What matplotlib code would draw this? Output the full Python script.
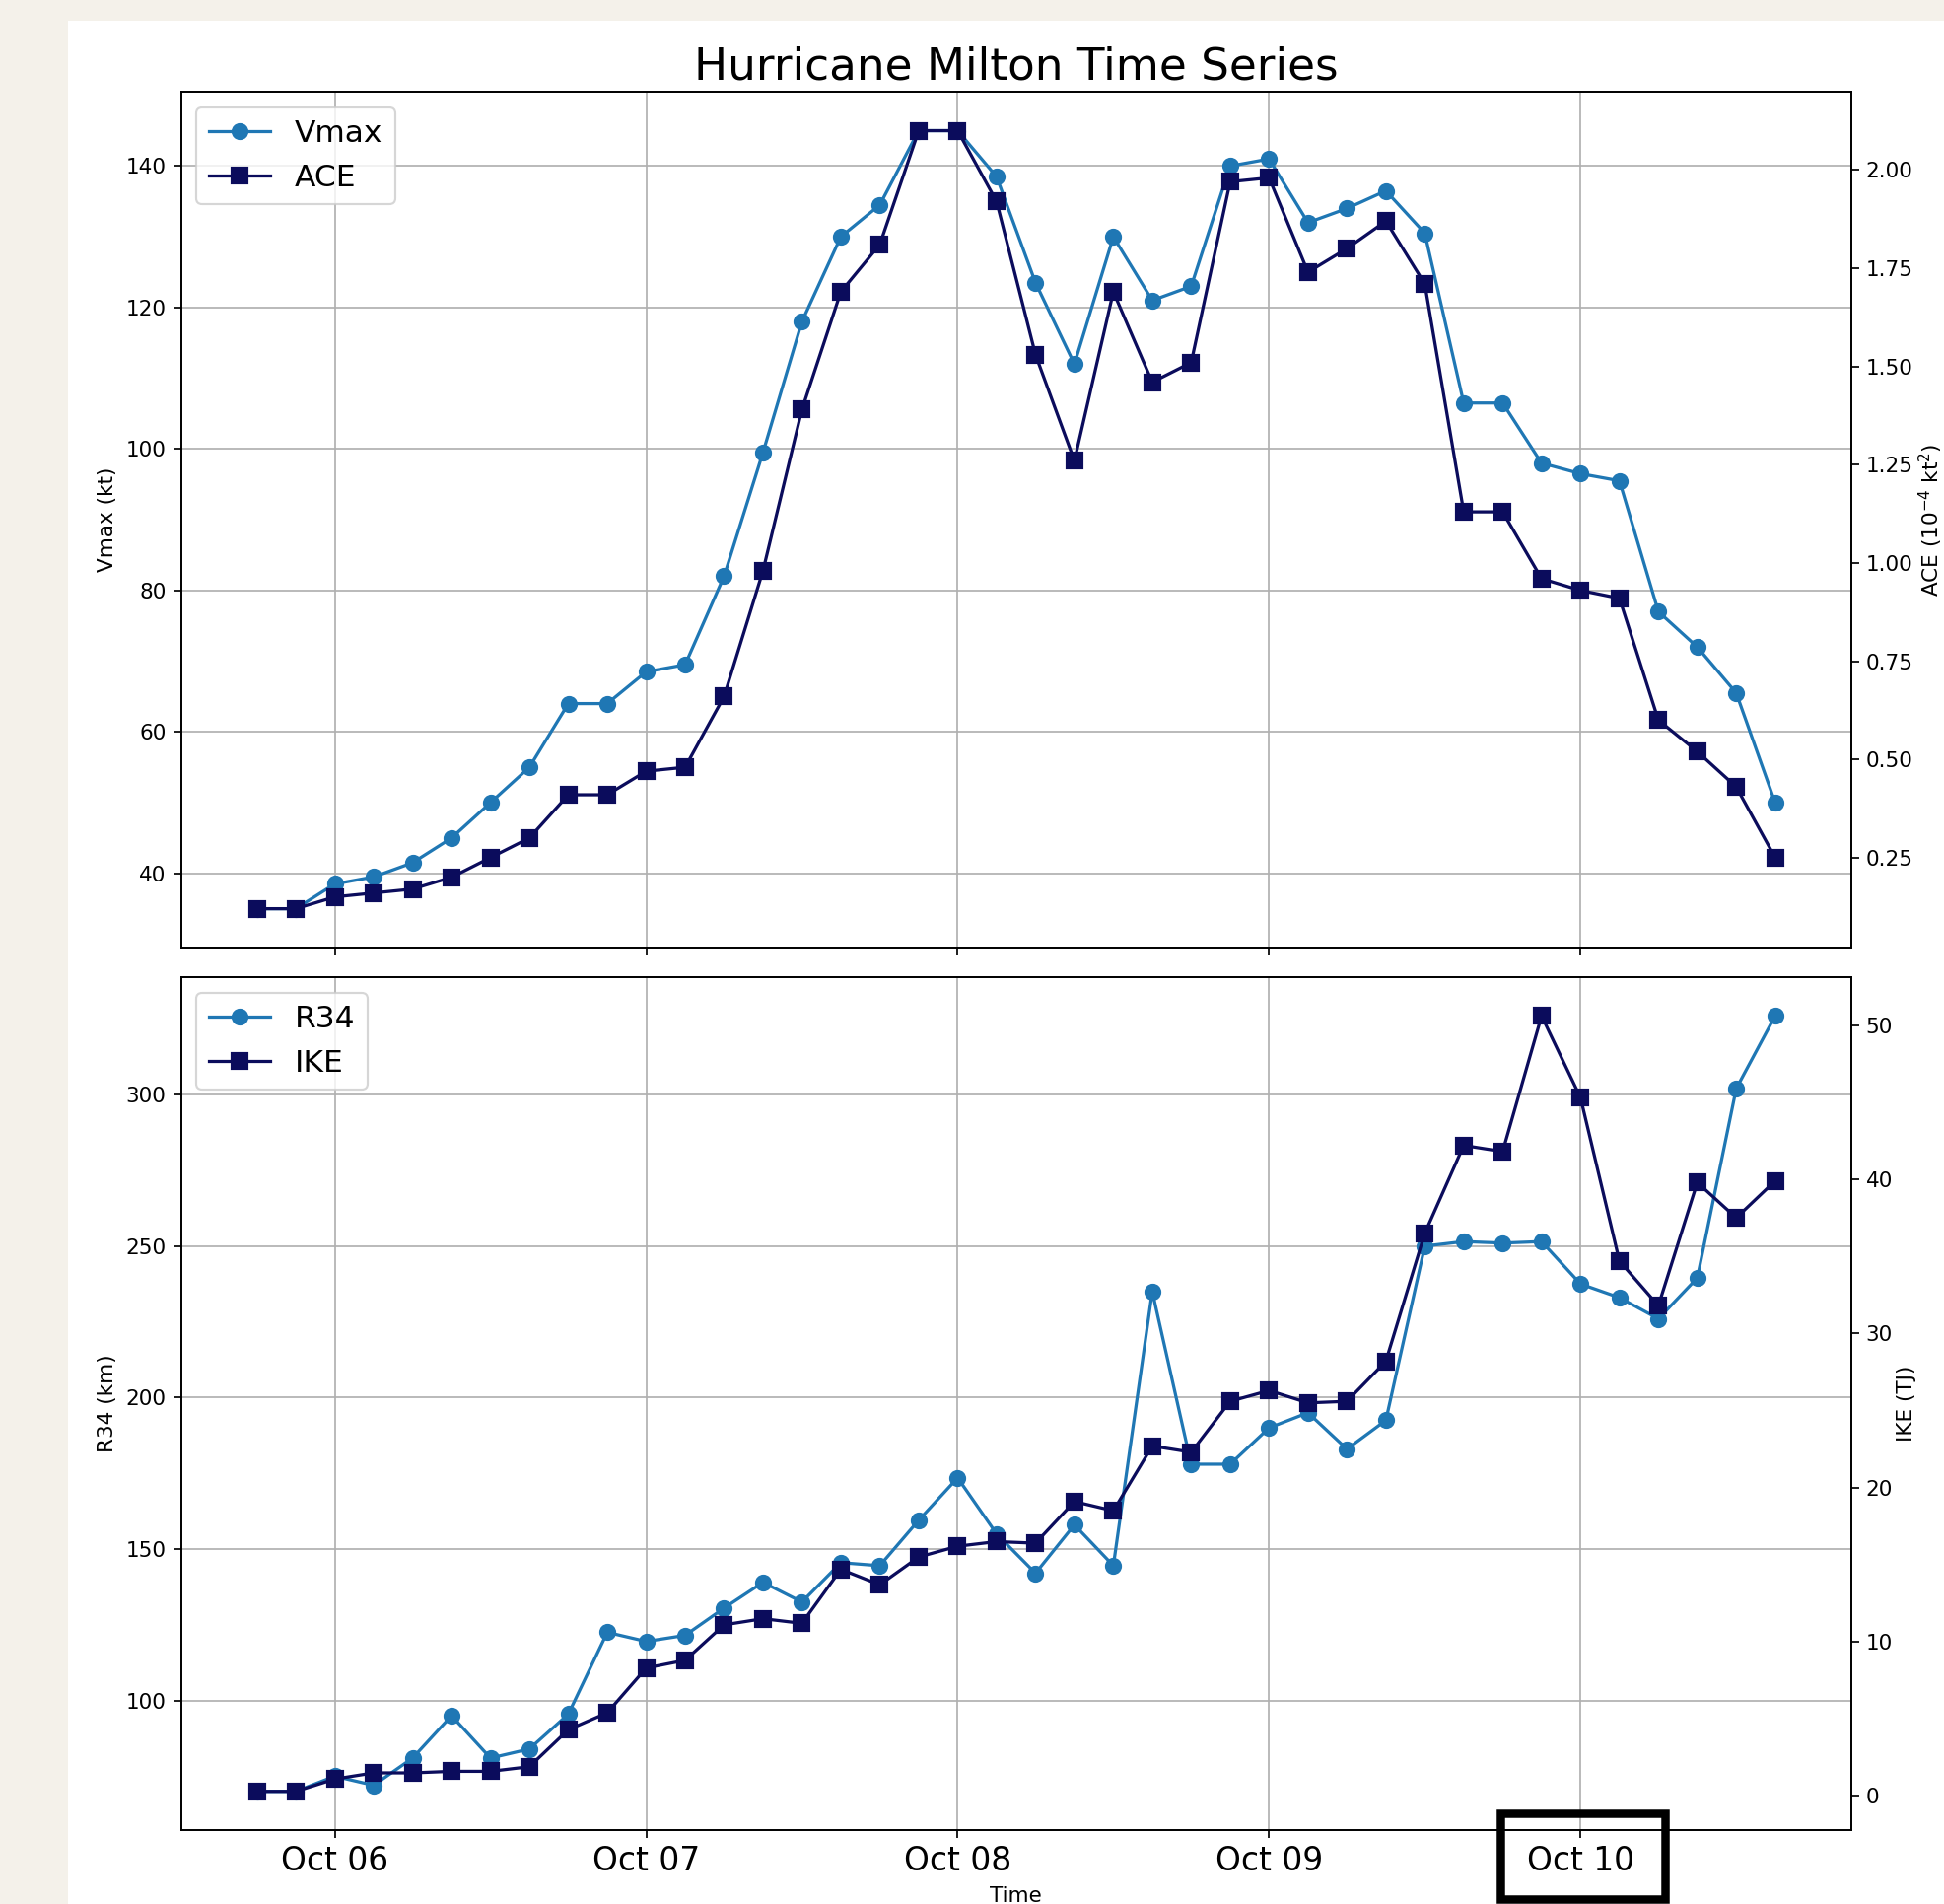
"""
Hurricane Milton: intensity / size time series
- top: Vmax (kt) and ACE (10^-4 kt^2)
- bottom: R34 (km) and IKE (TJ)
"""

import pandas as pd
import matplotlib
matplotlib.use("Agg")
import matplotlib.pyplot as plt
import matplotlib.dates as mdates
from matplotlib.patches import Rectangle


# =========================
# 1. data (3-hourly fixes)
# =========================
times = pd.date_range("2024-10-05 18:00", periods=40, freq="3h")

vmax = [35, 35, 38.5, 39.5, 41.5, 45, 50, 55, 64, 64,
        68.5, 69.5, 82, 99.5, 118, 130, 134.5, 145, 145, 138.5,
        123.5, 112, 130, 121, 123, 140, 141, 132, 134, 136.5,
        130.5, 106.5, 106.5, 98, 96.5, 95.5, 77, 72, 65.5, 50]

ace = [0.12, 0.12, 0.15, 0.16, 0.17, 0.20, 0.25, 0.30, 0.41, 0.41,
       0.47, 0.48, 0.66, 0.98, 1.39, 1.69, 1.81, 2.10, 2.10, 1.92,
       1.53, 1.26, 1.69, 1.46, 1.51, 1.97, 1.98, 1.74, 1.80, 1.87,
       1.71, 1.13, 1.13, 0.96, 0.93, 0.91, 0.60, 0.52, 0.43, 0.25]

r34 = [70, 70, 75, 72, 81, 95, 81, 84, 95.5, 122.5,
       119.5, 121.5, 130.5, 139, 132.5, 145.5, 144.5, 159.5, 173.5, 155,
       142, 158, 144.5, 235, 178, 178, 190, 195, 183, 192.5,
       250, 251.5, 251, 251.5, 237.5, 233, 226, 239.5, 302, 326]

ike = [0.3, 0.3, 1.1, 1.5, 1.5, 1.6, 1.6, 1.9, 4.3, 5.4,
       8.3, 8.8, 11.1, 11.5, 11.2, 14.7, 13.7, 15.5, 16.2, 16.5,
       16.4, 19.1, 18.5, 22.7, 22.3, 25.6, 26.3, 25.5, 25.6, 28.2,
       36.5, 42.2, 41.8, 50.6, 45.3, 34.7, 31.8, 39.8, 37.5, 39.9]

LIGHT = "#1f77b4"
DARK = "#0b0c5c"
BG = "#f4f1ea"

DPI = 155
W, H = 1972, 1931


# =========================
# 2. figure / axes
# =========================
fig = plt.figure(figsize=(W / DPI, H / DPI), dpi=DPI, facecolor=BG)
fig.patches.append(Rectangle((69 / W, 0), 1, 1 - 21 / H,
                             transform=fig.transFigure, facecolor="white",
                             edgecolor="none", zorder=-10))

ax1 = fig.add_axes([0.0931, 0.5023, 0.8591, 0.4495])
ax2 = fig.add_axes([0.0931, 0.0388, 0.8591, 0.448], sharex=ax1)


def plot_pair(ax, left, right, names, ylabels):
    axr = ax.twinx()
    l1, = ax.plot(times, left, "-o", color=LIGHT, ms=7, label=names[0])
    l2, = axr.plot(times, right, "-s", color=DARK, ms=7, label=names[1])
    ax.set_ylabel(ylabels[0])
    axr.set_ylabel(ylabels[1], labelpad=2)
    ax.grid(True)
    axr.legend(handles=[l1, l2], loc="upper left", fontsize=14.5)
    return axr


plot_pair(ax1, vmax, ace, ["Vmax", "ACE"],
          ["Vmax (kt)", r"ACE ($10^{-4}$ kt$^2$)"])
plot_pair(ax2, r34, ike, ["R34", "IKE"], ["R34 (km)", "IKE (TJ)"])

ax1.set_title("Hurricane Milton Time Series", fontsize=21)
ax1.tick_params(labelbottom=False)

ax2.xaxis.set_major_locator(mdates.DayLocator())
ax2.xaxis.set_major_formatter(mdates.DateFormatter("%b %d"))
ax2.tick_params(axis="x", labelsize=15.3)
ax2.set_xlabel("Time")

# box around the landfall day label
fig.patches.append(Rectangle((1522 / W, 1 - 1926 / H), 167 / W, 87 / H,
                             transform=fig.transFigure, fill=False,
                             edgecolor="black", linewidth=8.5 * 72 / DPI,
                             zorder=10))

fig.savefig("out.png", dpi=DPI, facecolor=BG)
